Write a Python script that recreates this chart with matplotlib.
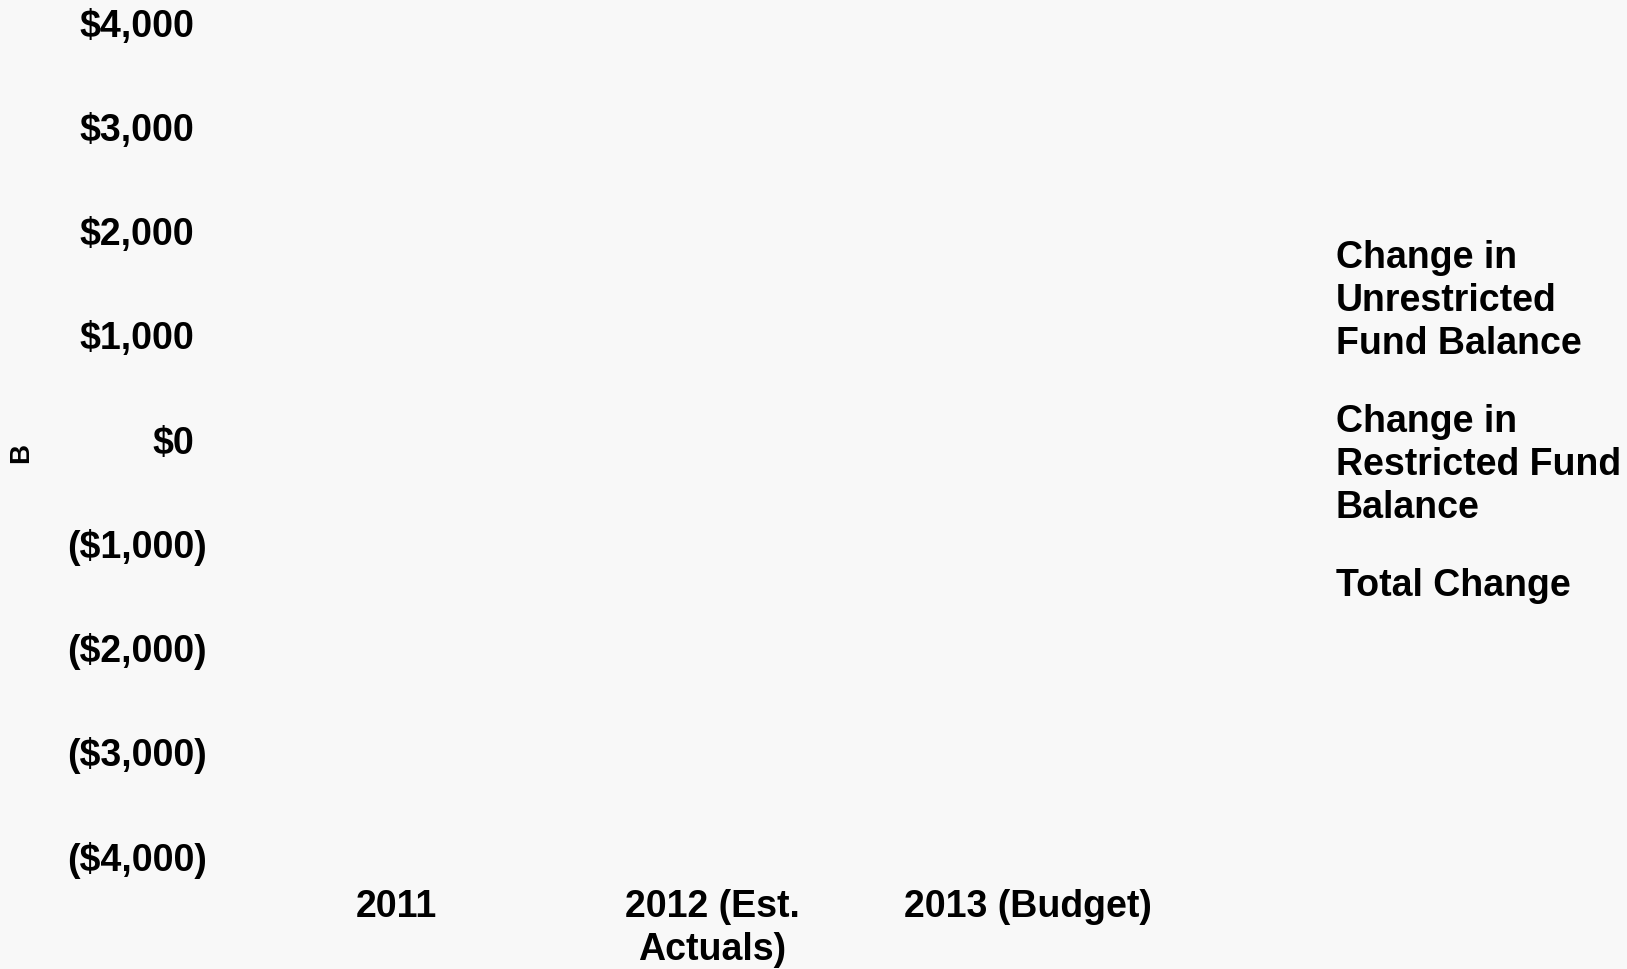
import matplotlib
matplotlib.use('Agg')
import matplotlib.pyplot as plt
import numpy as np

plt.rcParams['font.family'] = 'Liberation Sans'
plt.rcParams['font.weight'] = 'bold'

# fiscal years on the category axis
years = ['2011', '2012 (Est.\nActuals)', '2013 (Budget)']
series_names = ['Change in\nUnrestricted\nFund Balance',
                'Change in\nRestricted Fund\nBalance',
                'Total Change']
# change in fund balance, $ thousands (nothing plotted above zero)
unrestricted = [0, 0, 0]
restricted = [0, 0, 0]
total = [0, 0, 0]
y_ticks = [4000, 3000, 2000, 1000, 0, -1000, -2000, -3000, -4000]

colors = ['#4f81bd', '#c0504d', '#9bbb59']


def money(v):
    # accounting style: negatives in parentheses
    if v >= 0:
        return '\\$' + format(v, ',')
    return '(\\$' + format(-v, ',') + ')'


fig = plt.figure(figsize=(16.27, 9.69), dpi=100, facecolor='#f8f8f8')
ax = fig.add_axes([0.1463, 0.1156, 0.5827, 0.8596])
ax.set_facecolor('none')

x = np.arange(len(years))
w = 0.25
bars = []
for i, vals in enumerate([unrestricted, restricted, total]):
    b = ax.bar(x + (i - 1) * w, vals, w, color=colors[i], linewidth=0,
               label=series_names[i])
    bars.append(b)

ax.set_xlim(-0.5, 2.5)
ax.set_ylim(-4000, 4000)
for s in ax.spines.values():
    s.set_visible(False)

ax.set_xticks(x)
ax.set_xticklabels(years, fontsize=27, linespacing=1.25)
ax.set_yticks(y_ticks)
ax.set_yticklabels([])
ax.tick_params(length=0)
ax.tick_params(axis='x', pad=23)

# y labels drawn by hand so the positive ones leave room for the ")"
for v in y_ticks:
    off = -22.3 if v < 0 else -31.3
    ax.annotate(money(v), xy=(0, v), xycoords=('axes fraction', 'data'),
                xytext=(off, -2.2), textcoords='offset points',
                ha='right', va='center', fontsize=27)

fig.text(21 / 1627, 1 - 453 / 969, 'B', rotation=90, ha='center',
         va='center', fontsize=20)

leg = ax.legend(handles=bars, labels=series_names, loc='upper left',
                bbox_to_anchor=(1336 / 1627, 0.7595 - 7.3 / 969),
                bbox_transform=fig.transFigure, frameon=False,
                handlelength=0, handletextpad=0, borderpad=0,
                borderaxespad=0, labelspacing=1.12, fontsize=27)
for t in leg.get_texts():
    t.set_linespacing(1.25)

fig.savefig('out.png', dpi=100, facecolor=fig.get_facecolor())
